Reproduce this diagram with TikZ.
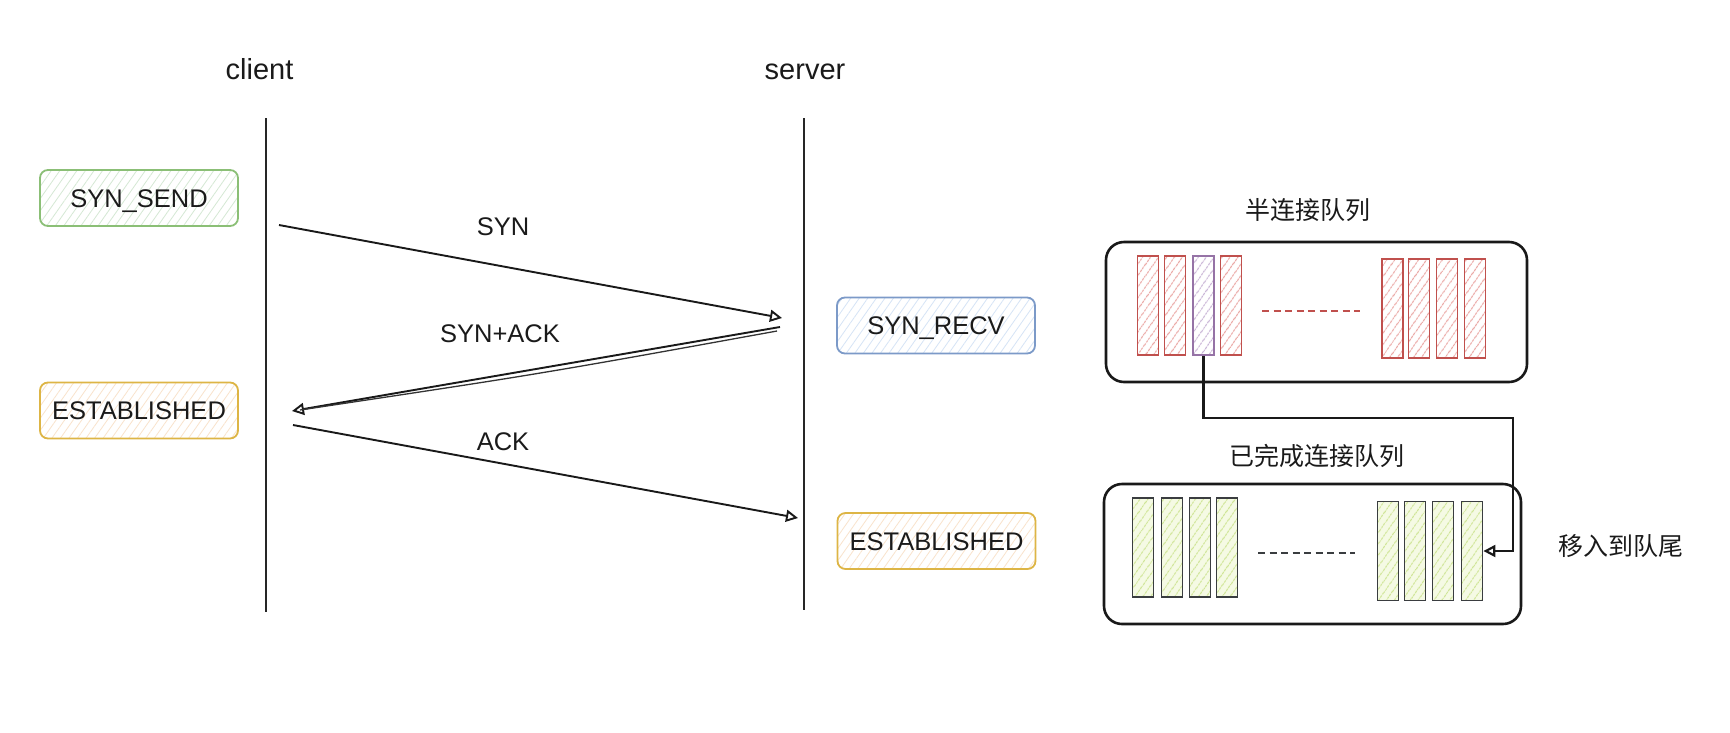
\documentclass[tikz,border=0pt]{standalone}
\usepackage{fontspec}
\setmainfont{Liberation Sans}
\newfontfamily\cjk{Noto Sans CJK SC}
\usetikzlibrary{arrows.meta,patterns.meta,calc}
\definecolor{txt}{HTML}{1A1A1A}
\definecolor{gS}{HTML}{8BBF76}
\definecolor{gH}{HTML}{D5E8D4}
\definecolor{yS}{HTML}{DDB545}
\definecolor{yH}{HTML}{F9E3CC}
\definecolor{bS}{HTML}{7C9AC8}
\definecolor{bH}{HTML}{D6E4F6}
\definecolor{rS}{HTML}{C0504D}
\definecolor{rH}{HTML}{EBA8A5}
\definecolor{pS}{HTML}{9673A6}
\definecolor{pH}{HTML}{C9B4D6}
\definecolor{lS}{HTML}{3A3D40}
\definecolor{lH}{HTML}{CFE596}
\definecolor{lF}{HTML}{F5FAE4}
\begin{document}
\begin{tikzpicture}[x=1pt,y=-1pt,
  lbl/.style={inner sep=0pt, text=txt, font=\fontsize{25.5}{30}\selectfont},
  head/.style={inner sep=0pt, text=txt, font=\fontsize{29}{34}\selectfont, anchor=base},
  cjkl/.style={inner sep=0pt, text=txt, font=\cjk\fontsize{25}{30}\selectfont},
  state/.style n args={2}{draw=#1, line width=1.8pt, rounded corners=8pt,
     preaction={fill=white},
     preaction={pattern={Lines[angle=55,distance=7pt,line width=0.8pt]}, pattern color=#2},
     minimum width=198pt, minimum height=56pt, inner sep=0pt, text=txt,
     font=\fontsize{25.5}{30}\selectfont, text height=18.3pt, text depth=0pt},
  bar/.style n args={3}{draw=#1, line width=1.8pt,
     preaction={fill=#3},
     preaction={pattern={Lines[angle=55,distance=6.5pt,line width=1.1pt]}, pattern color=#2},
     minimum width=21pt, minimum height=99pt, inner sep=0pt},
  queue/.style={draw=black!90, line width=2.6pt, rounded corners=18pt, minimum height=140pt, inner sep=0pt},
  life/.style={draw=black!85, line width=2.4pt},
  arr/.style={draw=black!90, line width=1.9pt, -{Triangle[open,length=12pt,width=12pt]}},
  dash1/.style={line width=2.6pt, dash pattern=on 7pt off 4.5pt}
]
\useasboundingbox (0,0) rectangle (1730,732);

% headings and lifelines
\node[head] (hc) at (259.5,79) {client};
\node[head] (hs) at (805,79) {server};
\coordinate (cTop) at (266,118);
\coordinate (cBot) at (266,612);
\coordinate (sTop) at (804,118);
\coordinate (sBot) at (804,610);
\draw[life] (cTop) -- (cBot);
\draw[life] (sTop) -- (sBot);

% states
\node[state={gS}{gH}] (synsend) at (139,198) {SYN\_SEND};
\node[state={yS}{yH}] (estc) at (139,410.5) {ESTABLISHED};
\node[state={bS}{bH}] (synrecv) at (936,325.5) {SYN\_RECV};
\node[state={yS}{yH}] (ests) at (936.5,541) {ESTABLISHED};

% messages
\coordinate (a1) at (279,225);
\coordinate (a2) at (782,318);
\coordinate (b1) at (780,327);
\coordinate (b2) at (292,411);
\coordinate (b3) at (777,331);
\coordinate (b4) at (300,410);
\coordinate (bm) at (540,374);
\coordinate (c1) at (293,425);
\coordinate (c2) at (798,518);
\draw[arr] (a1) -- (a2);
\draw[arr] (b1) -- (b2);
\draw[draw=black!80, line width=1.3pt] (b3) .. controls (bm) .. (b4);
\draw[arr] (c1) -- (c2);
\node[lbl, anchor=base] (lsyn) at (503,235) {SYN};
\node[lbl, anchor=base] (lsa) at (500,342) {SYN+ACK};
\node[lbl, anchor=base] (lack) at (503,450.5) {ACK};

% half-open queue
\node[cjkl] (t1) at (1308,210) {半连接队列};
\node[queue, minimum width=421pt] (hq) at (1316.5,312) {};
\node[bar={rS}{rH}{white}] (r1) at (1148,305.5) {};
\node[bar={rS}{rH}{white}] (r2) at (1175,305.5) {};
\node[bar={pS}{pH}{white}] (p3) at (1203.5,305.5) {};
\node[bar={rS}{rH}{white}] (r4) at (1231,305.5) {};
\node[bar={rS}{rH}{white}] (r5) at (1392.5,308.5) {};
\node[bar={rS}{rH}{white}] (r6) at (1419,308.5) {};
\node[bar={rS}{rH}{white}] (r7) at (1447,308.5) {};
\node[bar={rS}{rH}{white}] (r8) at (1475,308.5) {};
\draw[dash1, draw=rS] (1262,311) -- (1360,311);

% completed queue
\node[cjkl] (t2) at (1317,456) {已完成连接队列};
\node[queue, minimum width=417pt] (cq) at (1312.5,554) {};
\node[bar={lS}{lH}{lF}] (g1) at (1143,547.5) {};
\node[bar={lS}{lH}{lF}] (g2) at (1172,547.5) {};
\node[bar={lS}{lH}{lF}] (g3) at (1200,547.5) {};
\node[bar={lS}{lH}{lF}] (g4) at (1227,547.5) {};
\node[bar={lS}{lH}{lF}] (g5) at (1388,551) {};
\node[bar={lS}{lH}{lF}] (g6) at (1415,551) {};
\node[bar={lS}{lH}{lF}] (g7) at (1443,551) {};
\node[bar={lS}{lH}{lF}] (g8) at (1472,551) {};
\draw[dash1, draw=lS] (1258,553) -- (1355,553);

% move connector
\coordinate (mv) at (1513,418);
\draw[arr, line width=2.2pt] (p3.south) |- (mv) |- (g8.east);
\node[cjkl] (t3) at (1621,546) {移入到队尾};
\end{tikzpicture}
\end{document}
